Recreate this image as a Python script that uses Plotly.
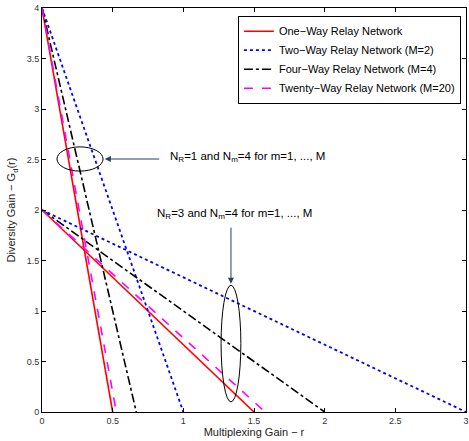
import plotly.graph_objects as go

# Data: endpoints of diversity-multiplexing tradeoff lines
names = ["One\u2212Way Relay Network", "Two\u2212Way Relay Network (M=2)",
         "Four\u2212Way Relay Network (M=4)", "Twenty\u2212Way Relay Network (M=20)"]
colors = ["red", "blue", "black", "magenta"]
dashes = ["solid", "dot", "dashdot", "dash"]
widths = [1.6, 1.8, 1.6, 1.6]
# Case N_R=1: lines from (0,4) to (rmax,0)
r_max_nr1 = [0.5, 1.0, 0.667, 0.526]
d_max_nr1 = 4
# Case N_R=3: lines from (0,2) to (rmax,0)
r_max_nr3 = [1.5, 3.0, 2.0, 1.579]
d_max_nr3 = 2

x_ticks = [0, 0.5, 1, 1.5, 2, 2.5, 3]
x_tick_labels = ["0", "0.5", "1", "1.5", "2", "2.5", "3"]
y_ticks = [0, 0.5, 1, 1.5, 2, 2.5, 3, 3.5, 4]
y_tick_labels = ["0", "0.5", "1", "1.5", "2", "2.5", "3", "3.5", "4"]

fig = go.Figure()
for i in range(4):
    fig.add_trace(go.Scatter(
        x=[0, r_max_nr1[i], None, 0, r_max_nr3[i]],
        y=[d_max_nr1, 0, None, d_max_nr3, 0],
        mode="lines", name=names[i],
        line=dict(color=colors[i], dash=dashes[i], width=widths[i]),
    ))

font = "Liberation Sans, Arial, sans-serif"

# Ellipses
fig.add_shape(type="circle", xref="x", yref="y", x0=0.106, x1=0.432, y0=2.385, y1=2.625,
              line=dict(color="black", width=1))
fig.add_shape(type="circle", xref="x", yref="y", x0=1.267, x1=1.407, y0=0.10, y1=1.255,
              line=dict(color="black", width=1))

# Arrows
fig.add_annotation(x=0.445, y=2.505, ax=0.84, ay=2.505, xref="x", yref="y", axref="x", ayref="y",
                   showarrow=True, arrowhead=2, arrowsize=1.2, arrowwidth=1, text="")
fig.add_annotation(x=1.337, y=1.27, ax=1.337, ay=1.84, xref="x", yref="y", axref="x", ayref="y",
                   showarrow=True, arrowhead=2, arrowsize=1.2, arrowwidth=1, text="")

# Texts
fig.add_annotation(x=0.89, y=2.52, xref="x", yref="y", xanchor="left", yanchor="middle",
                   showarrow=False, text="N<sub>R</sub>=1 and N<sub>m</sub>=4 for m=1, ..., M",
                   font=dict(family=font, size=11.5, color="black"))
fig.add_annotation(x=0.80, y=1.96, xref="x", yref="y", xanchor="left", yanchor="middle",
                   showarrow=False, text="N<sub>R</sub>=3 and N<sub>m</sub>=4 for m=1, ..., M",
                   font=dict(family=font, size=11.5, color="black"))

axis_common = dict(showgrid=False, zeroline=False, showline=True, linecolor="black", linewidth=1,
                   mirror="ticks", ticks="inside", ticklen=4, tickcolor="black",
                   tickfont=dict(family=font, size=9, color="#333"), automargin=False)

fig.update_layout(
    width=469, height=441,
    margin=dict(l=42, r=3, t=8, b=29),
    paper_bgcolor="white", plot_bgcolor="white",
    font=dict(family=font, color="black"),
    xaxis=dict(range=[0, 3], tickvals=x_ticks, ticktext=x_tick_labels,
               title=dict(text="Multiplexing Gain \u2212 r", font=dict(family=font, size=11, color="#222"), standoff=2),
               **axis_common),
    yaxis=dict(range=[0, 4], tickvals=y_ticks, ticktext=y_tick_labels,
               title=dict(text="Diversity Gain \u2212 G<sub>d</sub>(r)", font=dict(family=font, size=11, color="#222"), standoff=8),
               **axis_common),
    legend=dict(x=0.988, y=0.981, xanchor="right", yanchor="top",
                bgcolor="white", bordercolor="black", borderwidth=1,
                font=dict(family=font, size=11, color="black"),
                tracegroupgap=0, itemwidth=30),
    showlegend=True,
)

fig.write_html("out.html", config={"displayModeBar": False},
               post_script="document.body.style.margin='0';document.body.style.padding='0';")
